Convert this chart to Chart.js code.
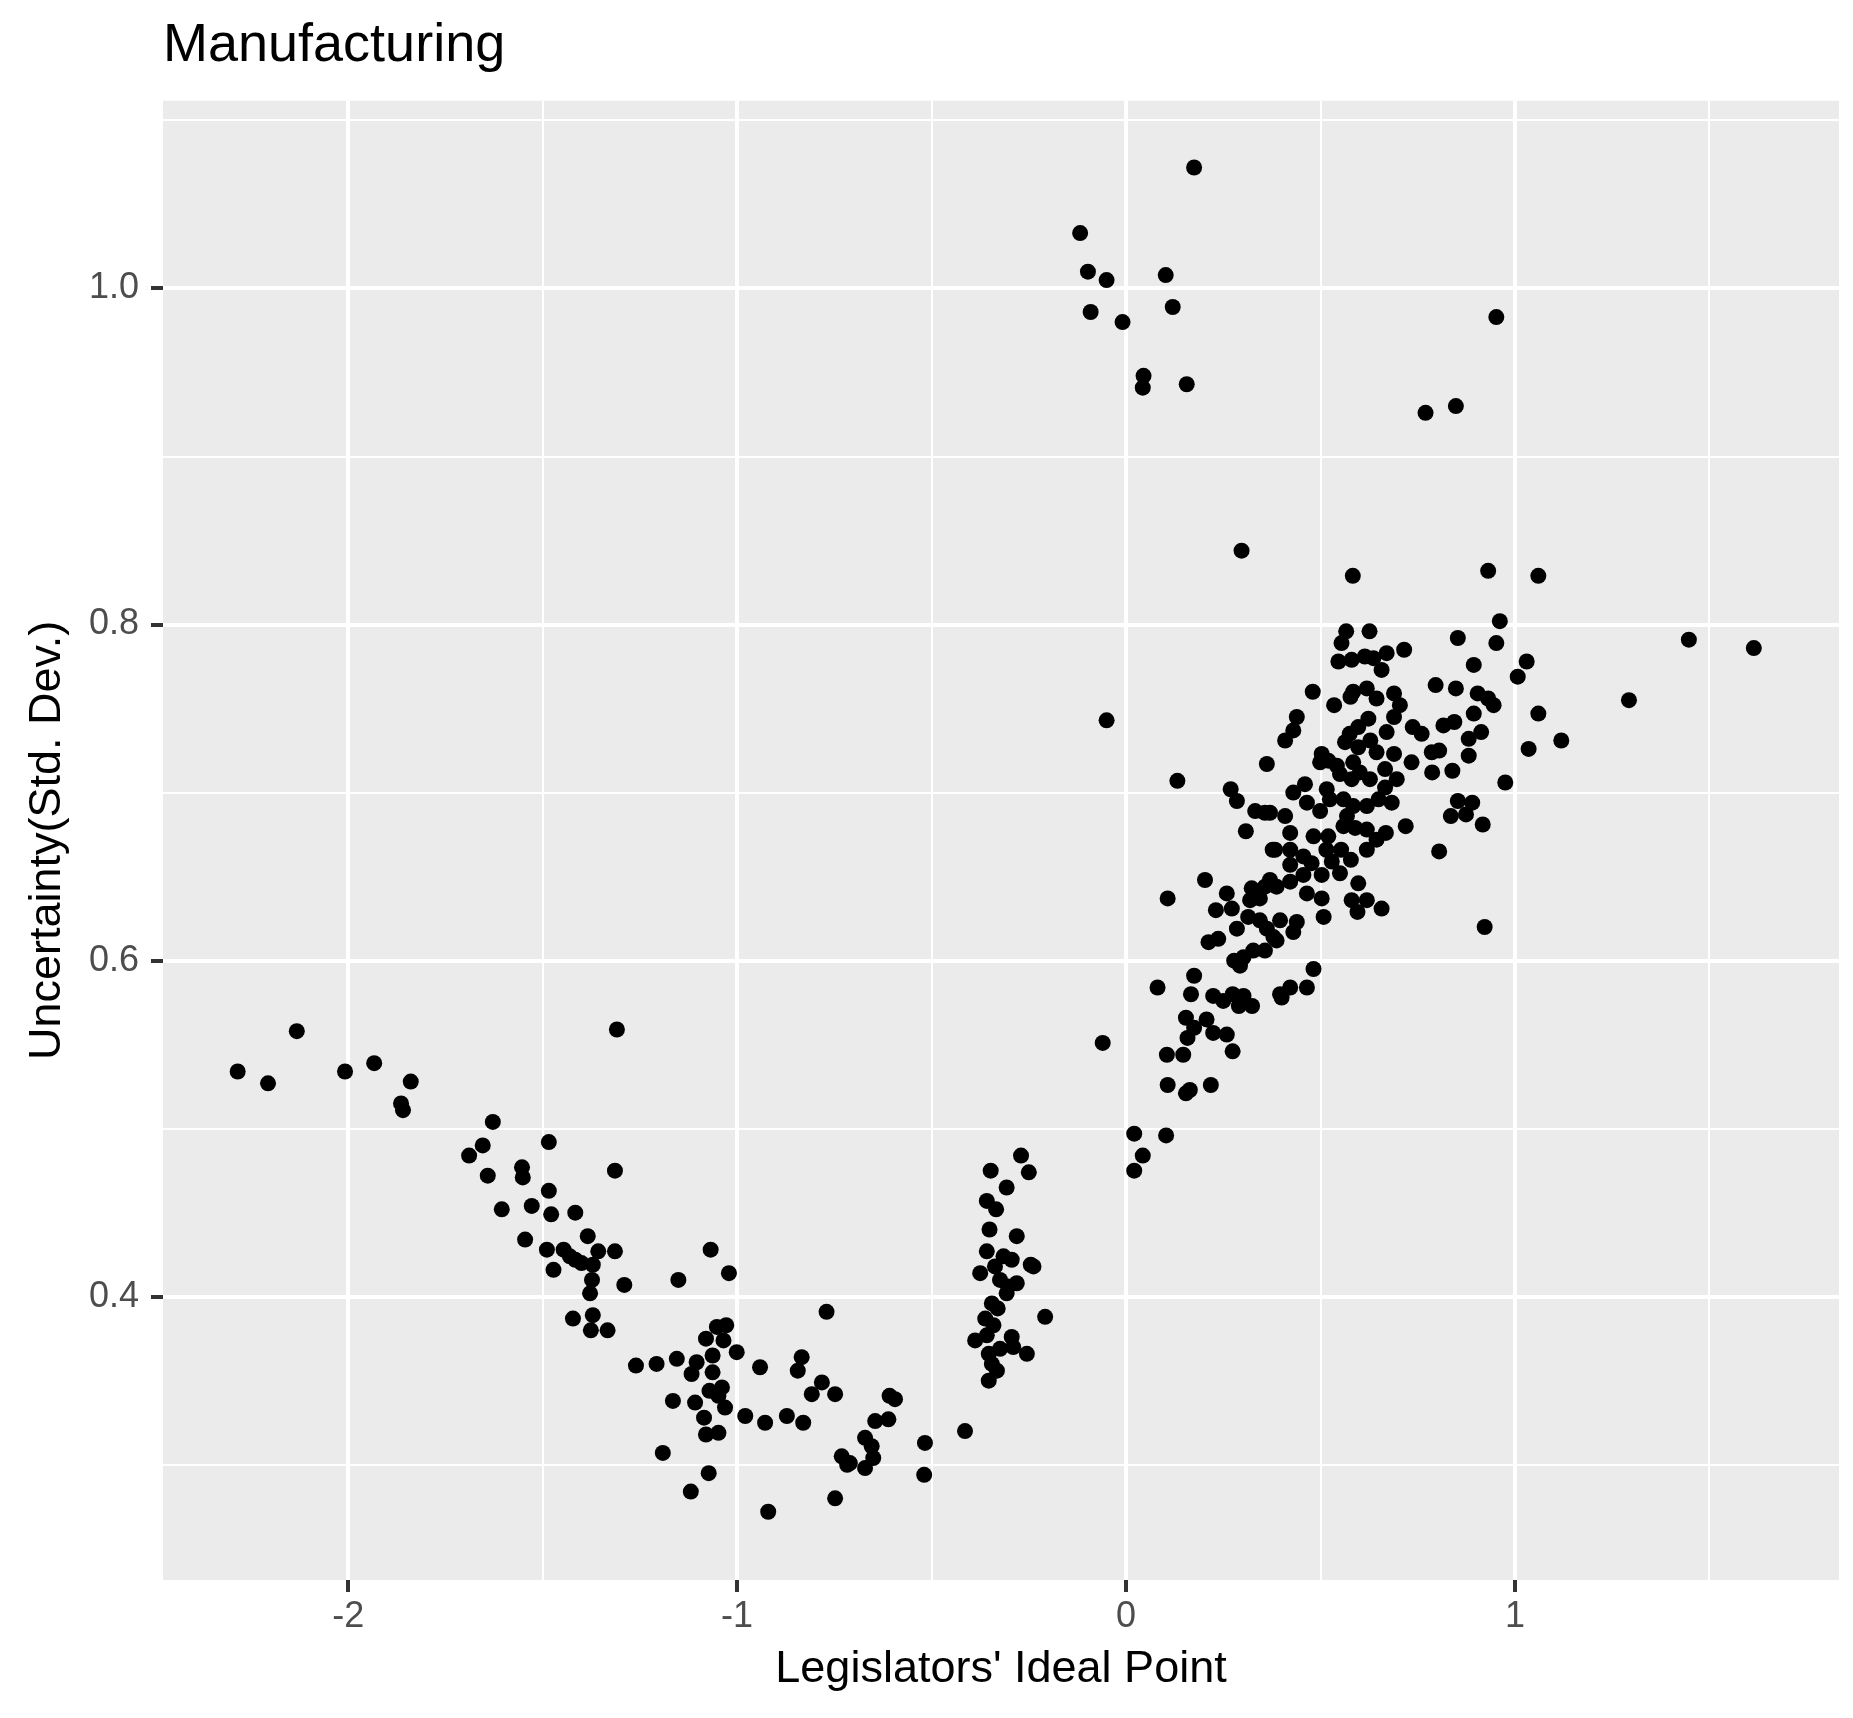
<!DOCTYPE html>
<html>
<head>
<meta charset="utf-8">
<title>Manufacturing</title>
<script src="https://cdn.jsdelivr.net/npm/chart.js@4.4.1/dist/chart.umd.min.js"></script>
<style>
  html, body { margin: 0; padding: 0; background: #ffffff; }
  #wrap { width: 1853px; height: 1718px; }
</style>
</head>
<body>
<div id="wrap"><canvas id="chart" width="1853" height="1718"></canvas></div>
<script>
// legislators' ideal point (x) and uncertainty / std. dev. (y)
const idealPoint = [
  // far left group
  -2.284, -2.206, -2.132, -2.008, -1.933, -1.839, -1.864, -1.859, -1.309, -1.628,
  -1.654, -1.689, -1.641, -1.484, -1.553, -1.551, -1.314, -1.484, -1.605, -1.528,
  -1.478, -1.416, -1.545, -1.489, -1.384, -1.446, -1.416, -1.357, -1.314, -1.472,
  -1.371, -1.373, -1.378, -1.290, -1.422, -1.371, -1.376, -1.333, -1.430, -1.400,
  // bottom of the curve
  -1.068, -1.151, -1.021, -0.770, -1.260, -1.207, -1.155, -1.104, -1.117, -1.063,
  -1.063, -1.080, -1.052, -1.028, -1.035, -1.001, -1.071, -1.039, -1.048, -1.031,
  -1.165, -1.108, -1.085, -1.080, -1.048, -0.979, -0.928, -0.872, -0.830, -1.191,
  -1.073, -1.119, -0.920, -0.748, -0.834, -0.844, -0.941, -0.782, -0.808, -0.748,
  -0.608, -0.594, -0.611, -0.645, -0.671, -0.654, -0.650, -0.731, -0.710, -0.717,
  -0.671, -0.517, -0.519, -0.414,
  // column near -0.3
  -0.270, -0.348, -0.250, -0.307, -0.358, -0.334, -0.351, -0.281, -0.358, -0.315,
  -0.294, -0.238, -0.245, -0.375, -0.337, -0.324, -0.281, -0.307, -0.303, -0.345,
  -0.330, -0.362, -0.341, -0.208, -0.358, -0.388, -0.294, -0.324, -0.290, -0.255,
  -0.353, -0.332, -0.353, -0.345,
  // top outliers
  0.175, -0.118, -0.098, -0.050, 0.102, -0.091, -0.009, 0.120, 0.045, 0.043,
  0.156, 0.952, 0.770, 0.848, 0.297,
  // rising branch
  -0.050, 0.132, 0.362, 0.269, 0.285, 0.332, 0.357, 0.308, 0.377, 0.203,
  0.107, 0.259, 0.231, 0.272, 0.323, 0.357, 0.319, 0.344, 0.314, 0.344,
  0.285, 0.212, 0.237, 0.362, 0.379, 0.357, 0.327, 0.302, 0.278, 0.293,
  0.175, 0.081, 0.167, 0.224, 0.250, 0.274, 0.302, 0.290, 0.324, 0.400,
  0.154, 0.207, 0.175, 0.224, 0.259, 0.158, 0.274, -0.060, 0.105, 0.147,
  0.107, 0.154, 0.164, 0.218, 0.021, 0.103, 0.043, 0.021,
  // dense cluster
  0.583, 0.566, 0.626, 0.554, 0.546, 0.580, 0.614, 0.636, 0.670, 0.715,
  0.657, 0.480, 0.796, 0.584, 0.619, 0.644, 0.689, 0.577, 0.535, 0.704,
  0.689, 0.439, 0.430, 0.409, 0.623, 0.597, 0.737, 0.760, 0.816, 0.670,
  0.575, 0.563, 0.628, 0.597, 0.644, 0.689, 0.734, 0.786, 0.805, 0.787,
  0.503, 0.499, 0.520, 0.542, 0.550, 0.584, 0.601, 0.580, 0.627, 0.666,
  0.696, 0.666, 0.460, 0.430, 0.465, 0.516, 0.524, 0.499, 0.559, 0.584,
  0.568, 0.619, 0.649, 0.683, 0.409, 0.370, 0.422, 0.482, 0.520, 0.559,
  0.589, 0.619, 0.668, 0.719, 0.644, 0.619, 0.515, 0.553, 0.578, 0.805,
  0.383, 0.422, 0.456, 0.422, 0.477, 0.529, 0.550, 0.597, 0.503, 0.456,
  0.422, 0.370, 0.387, 0.465, 0.503, 0.580, 0.619, 0.657, 0.595, 0.508,
  0.439, 0.396, 0.430, 0.387, 0.482, 0.465, 0.422, 0.396,
  // right side
  0.931, 1.060, 0.961, 0.853, 0.952, 0.894, 1.030, 1.007, 0.848, 0.904,
  0.931, 0.945, 1.060, 0.894, 0.844, 0.913, 0.881, 1.119, 1.035, 0.881,
  0.839, 0.975, 0.853, 0.890, 0.835, 0.874, 0.917, 0.922,
  1.293, 1.447, 1.614
];
const uncertainty = [
  0.534, 0.527, 0.558, 0.534, 0.539, 0.528, 0.515, 0.511, 0.559, 0.504,
  0.490, 0.484, 0.472, 0.492, 0.477, 0.471, 0.475, 0.463, 0.452, 0.454,
  0.449, 0.450, 0.434, 0.428, 0.436, 0.428, 0.422, 0.427, 0.427, 0.416,
  0.419, 0.410, 0.402, 0.407, 0.387, 0.389, 0.380, 0.380, 0.424, 0.420,

  0.428, 0.410, 0.414, 0.391, 0.359, 0.360, 0.363, 0.361, 0.354, 0.365,
  0.355, 0.375, 0.382, 0.383, 0.374, 0.367, 0.344, 0.346, 0.341, 0.334,
  0.338, 0.337, 0.328, 0.318, 0.319, 0.329, 0.325, 0.329, 0.325, 0.307,
  0.295, 0.284, 0.272, 0.280, 0.364, 0.356, 0.358, 0.349, 0.342, 0.342,
  0.341, 0.339, 0.327, 0.326, 0.316, 0.311, 0.304, 0.305, 0.301, 0.300,
  0.298, 0.313, 0.294, 0.320,

  0.484, 0.475, 0.474, 0.465, 0.457, 0.452, 0.440, 0.436, 0.427, 0.424,
  0.422, 0.418, 0.419, 0.414, 0.418, 0.410, 0.408, 0.402, 0.406, 0.396,
  0.393, 0.387, 0.383, 0.388, 0.377, 0.374, 0.376, 0.369, 0.370, 0.366,
  0.366, 0.356, 0.350, 0.360,

  1.072, 1.033, 1.010, 1.005, 1.008, 0.986, 0.980, 0.989, 0.948, 0.941,
  0.943, 0.983, 0.926, 0.930, 0.844,

  0.743, 0.707, 0.717, 0.702, 0.695, 0.689, 0.688, 0.677, 0.666, 0.648,
  0.637, 0.640, 0.630, 0.631, 0.643, 0.644, 0.636, 0.637, 0.626, 0.624,
  0.619, 0.611, 0.613, 0.619, 0.614, 0.606, 0.606, 0.602, 0.600, 0.597,
  0.591, 0.584, 0.580, 0.579, 0.576, 0.580, 0.579, 0.573, 0.573, 0.578,
  0.566, 0.565, 0.560, 0.557, 0.556, 0.554, 0.546, 0.551, 0.544, 0.544,
  0.526, 0.521, 0.523, 0.526, 0.497, 0.496, 0.484, 0.475,

  0.829, 0.796, 0.796, 0.789, 0.778, 0.779, 0.781, 0.780, 0.783, 0.785,
  0.773, 0.760, 0.764, 0.760, 0.762, 0.756, 0.759, 0.757, 0.752, 0.752,
  0.745, 0.745, 0.737, 0.731, 0.744, 0.739, 0.739, 0.735, 0.740, 0.736,
  0.735, 0.730, 0.731, 0.727, 0.724, 0.723, 0.718, 0.724, 0.725, 0.712,
  0.723, 0.718, 0.719, 0.716, 0.711, 0.718, 0.712, 0.708, 0.708, 0.714,
  0.708, 0.703, 0.705, 0.700, 0.694, 0.702, 0.696, 0.689, 0.696, 0.692,
  0.686, 0.692, 0.696, 0.694, 0.686, 0.688, 0.676, 0.674, 0.674, 0.680,
  0.679, 0.678, 0.676, 0.680, 0.672, 0.666, 0.666, 0.666, 0.660, 0.665,
  0.666, 0.666, 0.662, 0.657, 0.658, 0.659, 0.652, 0.646, 0.651, 0.651,
  0.647, 0.648, 0.644, 0.640, 0.637, 0.636, 0.636, 0.631, 0.629, 0.626,
  0.623, 0.624, 0.617, 0.612, 0.595, 0.584, 0.584, 0.580,

  0.832, 0.829, 0.802, 0.792, 0.789, 0.776, 0.778, 0.769, 0.762, 0.759,
  0.756, 0.752, 0.747, 0.747, 0.742, 0.736, 0.732, 0.731, 0.726, 0.722,
  0.713, 0.706, 0.695, 0.694, 0.686, 0.687, 0.681, 0.620,
  0.755, 0.791, 0.786
];

// axis ticks (ggplot style: labelled majors, unlabelled minors)
const xMajorTicks = [-2, -1, 0, 1];
const xMinorTicks = [-1.5, -0.5, 0.5, 1.5];
const yMajorTicks = [0.4, 0.6, 0.8, 1.0];
const yMinorTicks = [0.3, 0.5, 0.7, 0.9, 1.1];
const xRange = [-2.476, 1.833];
const yRange = [0.2314, 1.1117];

const FONT = '"Liberation Sans", Arial, Helvetica, sans-serif';

function isMajor(v, majors) {
  return majors.some(m => Math.abs(m - v) < 1e-9);
}
function allTicks(majors, minors) {
  return majors.concat(minors).sort((a, b) => a - b).map(v => ({ value: v }));
}

// grey panel behind the grid
const panelBg = {
  id: 'panelBg',
  beforeDraw(chart) {
    const { ctx, chartArea: a } = chart;
    ctx.save();
    ctx.fillStyle = '#EBEBEB';
    ctx.fillRect(a.left, a.top, a.right - a.left, a.bottom - a.top);
    ctx.restore();
  }
};

function gridFor(majors) {
  return {
    color: '#FFFFFF',
    lineWidth: c => (c.tick && isMajor(c.tick.value, majors)) ? 4 : 2,
    drawTicks: true,
    tickLength: 12,
    tickColor: c => (c.tick && isMajor(c.tick.value, majors)) ? '#333333' : 'rgba(0,0,0,0)',
    tickWidth: 4
  };
}

const points = idealPoint.map((x, i) => ({ x: x, y: uncertainty[i] }));

const config = {
  type: 'scatter',
  data: {
    datasets: [{
      label: 'Legislators',
      data: points,
      backgroundColor: '#000000',
      borderWidth: 0,
      pointRadius: 8,
      pointHoverRadius: 8
    }]
  },
  options: {
    responsive: false,
    devicePixelRatio: 1,
    animation: false,
    events: [],
    layout: { padding: { left: 0, right: 14, top: 0, bottom: 0 } },
    plugins: {
      legend: { display: false },
      tooltip: { enabled: false },
      title: {
        display: true,
        text: 'Manufacturing',
        align: 'start',
        fullSize: false,
        color: '#000000',
        font: { family: FONT, size: 54, weight: 'normal' },
        padding: { top: 14, bottom: 22 }
      }
    },
    scales: {
      x: {
        type: 'linear',
        min: xRange[0],
        max: xRange[1],
        afterBuildTicks: s => { s.ticks = allTicks(xMajorTicks, xMinorTicks); },
        afterFit: s => { s.height = 138; },
        grid: gridFor(xMajorTicks),
        border: { display: false },
        ticks: {
          autoSkip: false,
          maxRotation: 0,
          padding: 3,
          color: '#4D4D4D',
          font: { family: FONT, size: 36 },
          callback: v => isMajor(v, xMajorTicks) ? String(v) : ''
        },
        title: {
          display: true,
          text: "Legislators' Ideal Point",
          color: '#000000',
          font: { family: FONT, size: 45 },
          padding: { top: 0, bottom: 21 }
        }
      },
      y: {
        type: 'linear',
        min: yRange[0],
        max: yRange[1],
        afterBuildTicks: s => { s.ticks = allTicks(yMajorTicks, yMinorTicks); },
        afterFit: s => { s.width = 163; },
        grid: gridFor(yMajorTicks),
        border: { display: false },
        ticks: {
          autoSkip: false,
          padding: 12,
          color: '#4D4D4D',
          font: { family: FONT, size: 36 },
          callback: v => isMajor(v, yMajorTicks) ? v.toFixed(1) : ''
        },
        title: {
          display: true,
          text: 'Uncertainty(Std. Dev.)',
          color: '#000000',
          font: { family: FONT, size: 45 },
          padding: { top: 21, bottom: 0 }
        }
      }
    }
  },
  plugins: [panelBg]
};

const mainChart = new Chart(document.getElementById('chart'), config);
</script>
</body>
</html>
